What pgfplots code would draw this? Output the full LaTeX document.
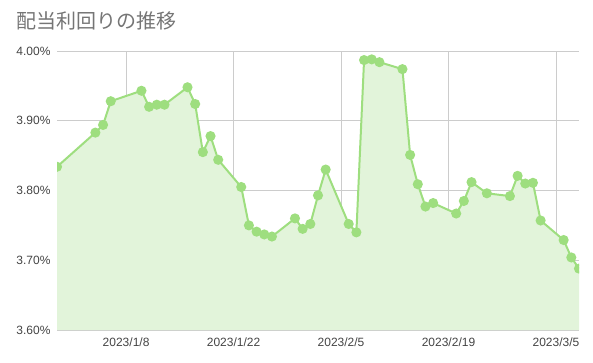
\documentclass[border=0pt]{standalone}
\usepackage{pgfplots}
\pgfplotsset{compat=1.18}
\usepackage{fontspec}
\setmainfont{Liberation Sans}
\newfontfamily\cjk{Noto Sans CJK JP}
\definecolor{lineg}{HTML}{9EDE7F}
\definecolor{fillg}{HTML}{E2F4DA}
\definecolor{gridc}{HTML}{CCCCCC}
\definecolor{titlec}{HTML}{757575}
\definecolor{tickc}{HTML}{444444}
\begin{document}
\begin{tikzpicture}
\path[use as bounding box] (0,0) rectangle (593bp,363bp);
\node[anchor=west, text=titlec, font=\cjk\fontsize{20bp}{23bp}\selectfont, inner sep=0pt] at (16bp,342bp) {配当利回りの推移};
\begin{axis}[
  at={(57bp,33bp)}, anchor=south west,
  scale only axis, width=522bp, height=279bp,
  xmin=-2, xmax=66, ymin=3.6, ymax=4.0,
  xtick={7,21,35,49,63},
  xticklabels={2023/1/8,2023/1/22,2023/2/5,2023/2/19,2023/3/5},
  ytick={3.6,3.7,3.8,3.9,4.0},
  yticklabels={3.60\%,3.70\%,3.80\%,3.90\%,4.00\%},
  /pgf/number format/assume math mode=true,
  grid=major,
  major grid style={draw=gridc, line width=0.8bp},
  axis line style={draw=none},
  major tick length=0pt,
  tick label style={font=\fontsize{12bp}{14bp}\selectfont, text=tickc},
  xticklabel style={yshift=-4bp},
  yticklabel style={xshift=-3bp},
  clip marker paths=true,
]
\addplot[fill=fillg, draw=none] table {
x y
-2 3.834
3 3.883
4 3.894
5 3.928
9 3.943
10 3.920
11 3.923
12 3.923
15 3.948
16 3.924
17 3.855
18 3.878
19 3.844
22 3.805
23 3.750
24 3.741
25 3.737
26 3.734
29 3.760
30 3.745
31 3.752
32 3.793
33 3.830
36 3.752
37 3.740
38 3.987
39 3.988
40 3.984
43 3.974
44 3.851
45 3.809
46 3.777
47 3.782
50 3.767
51 3.785
52 3.812
54 3.796
57 3.792
58 3.821
59 3.810
60 3.811
61 3.757
64 3.729
65 3.704
66 3.688
} \closedcycle;
\addplot[draw=lineg, line width=2bp, mark=*, mark size=4bp, mark options={fill=lineg, draw=none}] table {
x y
-2 3.834
3 3.883
4 3.894
5 3.928
9 3.943
10 3.920
11 3.923
12 3.923
15 3.948
16 3.924
17 3.855
18 3.878
19 3.844
22 3.805
23 3.750
24 3.741
25 3.737
26 3.734
29 3.760
30 3.745
31 3.752
32 3.793
33 3.830
36 3.752
37 3.740
38 3.987
39 3.988
40 3.984
43 3.974
44 3.851
45 3.809
46 3.777
47 3.782
50 3.767
51 3.785
52 3.812
54 3.796
57 3.792
58 3.821
59 3.810
60 3.811
61 3.757
64 3.729
65 3.704
66 3.688
};
\end{axis}
\end{tikzpicture}
\end{document}
